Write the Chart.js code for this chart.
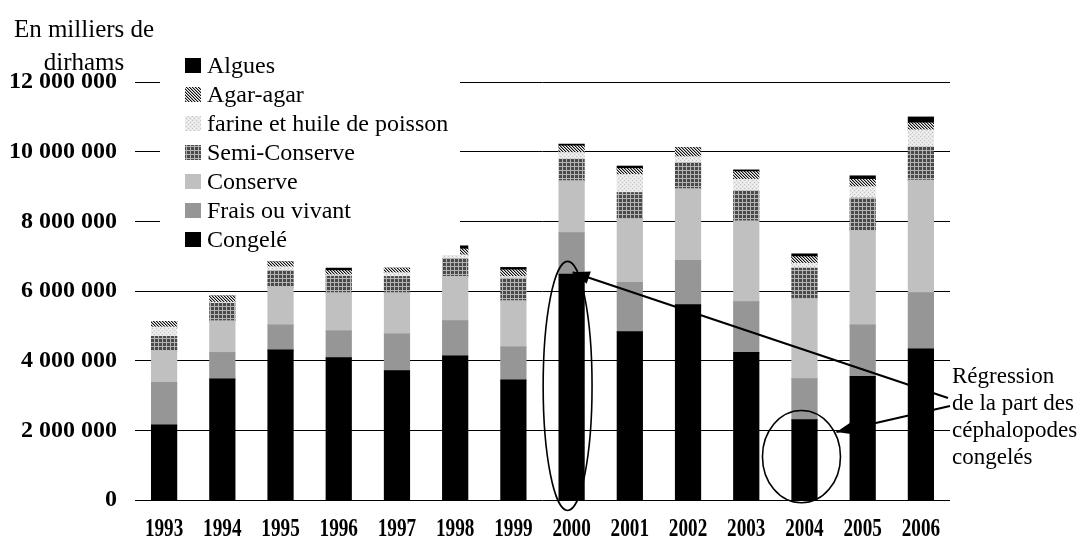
<!DOCTYPE html>
<html><head><meta charset="utf-8">
<script src="https://cdn.jsdelivr.net/npm/chart.js@4.4.1/dist/chart.umd.min.js"></script>
<style>html,body{margin:0;padding:0;background:#fff;}#wrap{width:1084px;height:552px;}</style>
</head><body><div id="wrap"><canvas id="c" width="1084" height="552"></canvas></div>
<script>
const years = ['1993','1994','1995','1996','1997','1998','1999','2000','2001','2002','2003','2004','2005','2006'];
const congele      = [2150000,3470000,4300000,4080000,3710000,4130000,3440000,6480000,4830000,5600000,4230000,2300000,3540000,4330000];
const fraisVivant  = [1220000, 760000, 720000, 770000,1050000,1010000, 950000,1190000,1410000,1270000,1460000,1180000,1480000,1620000];
const conserve     = [ 910000, 910000,1100000,1100000,1190000,1270000,1330000,1490000,1820000,2060000,2320000,2290000,2710000,3230000];
const semiConserve = [ 410000, 500000, 460000, 470000, 460000, 520000, 640000, 620000, 760000, 750000, 860000, 880000, 930000, 950000];
const farine       = [ 270000,  30000, 110000,  40000, 110000, 100000,  50000, 190000, 520000, 170000, 330000, 140000, 330000, 490000];
const agarAgar     = [ 160000, 180000, 140000, 120000, 130000, 170000, 190000, 190000, 170000, 260000, 220000, 190000, 210000, 200000];
const algues       = [      0,      0,      0,  70000,      0,  90000,  70000,  50000,  70000,      0,  50000,  80000, 100000, 170000];
const yTickValues  = [0,2000000,4000000,6000000,8000000,10000000,12000000];
const unitTitle    = ['En milliers de','dirhams'];
const noteLines    = ['Régression','de la part des','céphalopodes','congelés'];

const canvas = document.getElementById('c');
const ctx0 = canvas.getContext('2d');
function pat(size, draw){const c=document.createElement('canvas');c.width=c.height=size;const g=c.getContext('2d');draw(g);return ctx0.createPattern(c,'repeat');}
const semiPat = pat(4, g=>{g.fillStyle='#4a4a4a';g.fillRect(0,0,4,4);g.fillStyle='#b4b4b4';g.fillRect(0,2,4,1);g.fillRect(2,0,1,4);});
const farinePat = pat(4, g=>{g.fillStyle='#e8e8e8';g.fillRect(0,0,4,4);g.fillStyle='#c4c4c4';g.fillRect(0,0,1,1);g.fillRect(2,2,1,1);g.fillStyle='#f6f6f6';g.fillRect(2,0,1,1);g.fillRect(0,2,1,1);});
const agarPat = pat(3, g=>{g.fillStyle='#f4f4f4';g.fillRect(0,0,3,3);for(let i=0;i<3;i++){g.fillStyle='#111';g.fillRect(i,i,1,1);g.fillStyle='#9a9a9a';g.fillRect((i+1)%3,i,1,1);}});

const FONT = "'Liberation Serif','Times New Roman',serif";
Chart.defaults.font.family = FONT;
Chart.defaults.color = '#000';

const fmt = v => String(v).replace(/\B(?=(\d{3})+(?!\d))/g,' ');

const extras = {
  id:'extras',
  afterDatasetsDraw(chart){
    const ctx = chart.ctx, xs = chart.scales.x, ys = chart.scales.y;
    ctx.save();
    // legend box
    ctx.fillStyle='#fff';
    ctx.fillRect(160,48,300,207);
    const ds = chart.data.datasets.slice().reverse();
    ctx.font = '24px '+FONT; ctx.textAlign='left'; ctx.textBaseline='alphabetic';
    ds.forEach((d,i)=>{
      const base = 73 + i*29;
      ctx.fillStyle = d.backgroundColor; ctx.fillRect(185, base-15, 16, 15);
      ctx.fillStyle = '#000'; ctx.fillText(d.label, 207, base);
    });
    // unit title
    ctx.font = '25px '+FONT; ctx.textAlign='center';
    ctx.fillText(unitTitle[0], 84, 37);
    ctx.fillText(unitTitle[1], 84, 70);
    // x labels (condensed)
    ctx.font = 'bold 24px '+FONT; ctx.textBaseline='middle';
    years.forEach((y,i)=>{
      ctx.save(); ctx.translate(xs.getPixelForValue(i), 529); ctx.scale(0.8,1.05);
      ctx.fillText(y,0,0); ctx.restore();
    });
    // annotations
    const cw = xs.getPixelForValue(1)-xs.getPixelForValue(0);
    ctx.strokeStyle='#000'; ctx.lineWidth=1.6;
    const e1x = xs.getPixelForValue(7)-4, e1t = ys.getPixelForValue(6850000), e1b = ys.getPixelForValue(-300000);
    ctx.beginPath(); ctx.ellipse(e1x,(e1t+e1b)/2,cw*0.42,(e1b-e1t)/2,0,0,Math.PI*2); ctx.stroke();
    const e2x = xs.getPixelForValue(11)-3, e2t = ys.getPixelForValue(2570000), e2b = ys.getPixelForValue(-80000);
    ctx.beginPath(); ctx.ellipse(e2x,(e2t+e2b)/2,cw*0.67,(e2b-e2t)/2,0,0,Math.PI*2); ctx.stroke();
    function arrow(x1,y1,x2,y2){
      ctx.lineWidth=2.2; ctx.beginPath(); ctx.moveTo(x1,y1); ctx.lineTo(x2,y2); ctx.stroke();
      const a=Math.atan2(y2-y1,x2-x1), L=17, W=6.5;
      const bx=x2-L*Math.cos(a), by=y2-L*Math.sin(a);
      ctx.beginPath(); ctx.moveTo(x2,y2);
      ctx.lineTo(bx+W*Math.sin(a), by-W*Math.cos(a));
      ctx.lineTo(bx-W*Math.sin(a), by+W*Math.cos(a));
      ctx.closePath(); ctx.fill();
    }
    ctx.fillStyle='#000';
    const ax = chart.chartArea.right;
    arrow(ax-2, 398, xs.getPixelForValue(7)+1, ys.getPixelForValue(congele[7])-2);
    arrow(ax, 406, e2x+cw*0.67-4, 432);
    ctx.font = '23px '+FONT; ctx.textAlign='left'; ctx.textBaseline='middle';
    noteLines.forEach((t,i)=>ctx.fillText(t, ax+2, 377+i*27));
    ctx.restore();
  }
};

const mk = (label, data, color) => ({label, data, backgroundColor: color, borderWidth:0, inflateAmount:0.6, barPercentage:0.43, categoryPercentage:1});
new Chart(canvas, {
  type:'bar',
  data:{labels:years, datasets:[
    mk('Congelé', congele, '#000000'),
    mk('Frais ou vivant', fraisVivant, '#969696'),
    mk('Conserve', conserve, '#c0c0c0'),
    mk('Semi-Conserve', semiConserve, semiPat),
    mk('farine et huile de poisson', farine, farinePat),
    mk('Agar-agar', agarAgar, agarPat),
    mk('Algues', algues, '#000000')
  ]},
  options:{
    responsive:false, animation:false, devicePixelRatio:1,
    layout:{padding:{left:0, top:82, right:134, bottom:52}},
    plugins:{legend:{display:false}, tooltip:{enabled:false}, title:{display:false}},
    scales:{
      x:{stacked:true, grid:{display:false, drawTicks:false}, border:{display:false}, ticks:{display:false}},
      y:{stacked:true, min:0, max:12000000,
         afterBuildTicks: s => { s.ticks = yTickValues.map(v=>({value:v})); },
         afterFit: s => { s.width = 135; },
         grid:{color:'#000', lineWidth:1, drawTicks:false}, border:{display:false},
         ticks:{padding:18, font:{size:24, weight:'bold'}, color:'#000', callback: v => fmt(v)}}
    }
  },
  plugins:[extras]
});
</script></body></html>
